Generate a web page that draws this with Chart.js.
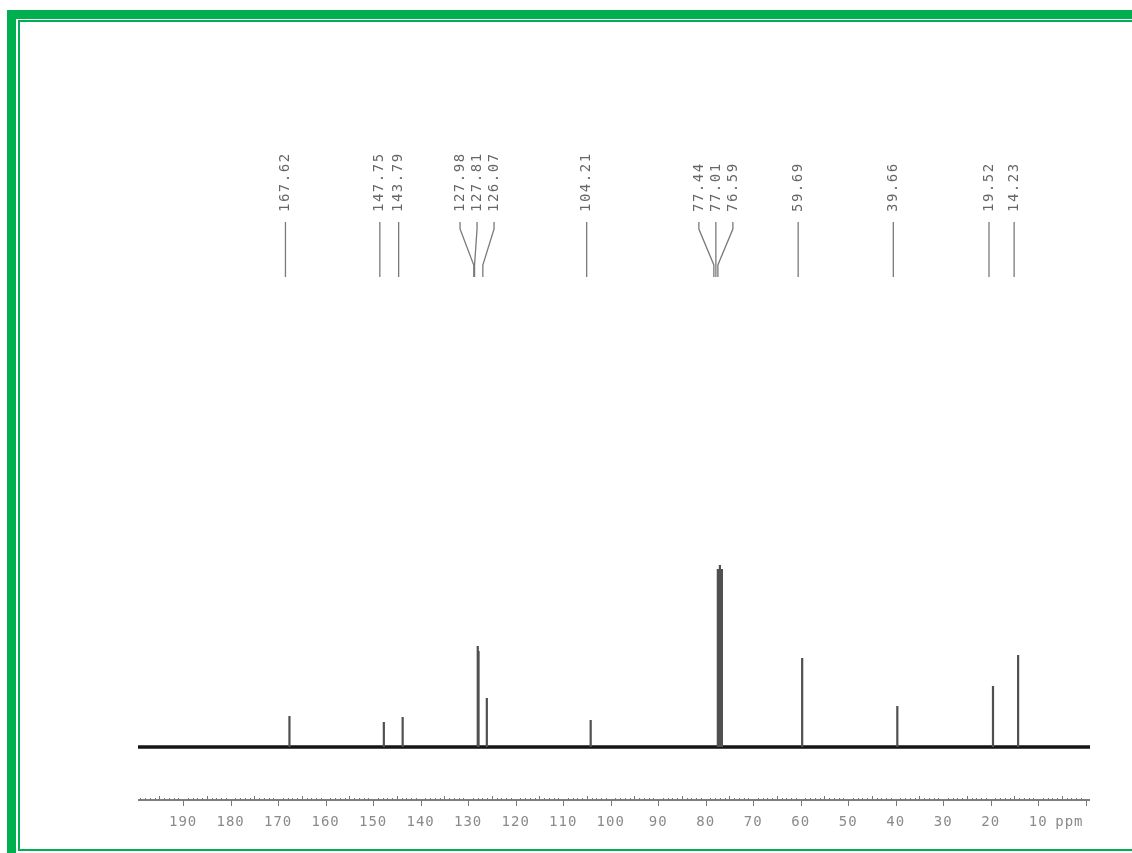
<!DOCTYPE html>
<html>
<head>
<meta charset="utf-8">
<title>13C NMR spectrum</title>
<script src="https://cdn.jsdelivr.net/npm/chart.js@4.4.1/dist/chart.umd.min.js"></script>
<style>
  html, body { margin: 0; padding: 0; background: #fff; overflow: hidden; }
  body { width: 1132px; height: 853px; position: relative; }
  .frame-outer {
    position: absolute; left: 7px; top: 10px; width: 2000px; height: 2000px;
    border-left: 9px solid #00b050; border-top: 9px solid #00b050;
  }
  .frame-inner {
    position: absolute; left: 18px; top: 20px; width: 2000px; height: 831px; box-sizing: border-box;
    border-left: 2px solid #00b050; border-top: 2px solid #00b050; border-bottom: 2px solid #00b050;
  }
  #spectrum { position: absolute; left: 0; top: 0; }
</style>
</head>
<body>
<div class="frame-outer"></div>
<div class="frame-inner"></div>
<canvas id="spectrum" width="1132" height="853"></canvas>
<script>
// Chemical shifts (ppm) of the picked carbon signals, high field last
const shifts = [167.62, 147.75, 143.79, 127.98, 127.81, 126.07, 104.21, 77.44, 77.01, 76.59, 59.69, 39.66, 19.52, 14.23];
// Peak intensities (arbitrary units above the baseline)
const heights = [31, 25, 30, 101, 96, 49, 27, 178, 182, 178, 89, 41, 61, 92];
// Spectral window (ppm), drawn high field on the right
const ppmLeft = 199.5;
const ppmRight = -0.9;
// Labelled ticks of the shift axis
const tickValues = [190, 180, 170, 160, 150, 140, 130, 120, 110, 100, 90, 80, 70, 60, 50, 40, 30, 20, 10];
const axisUnit = 'ppm';

// Baseline across the full window
const baselinePoints = [{ x: ppmLeft, y: 0 }, { x: ppmRight, y: 0 }];

// Each peak is a vertical stick from the baseline to its intensity; a null breaks the line
const stickPoints = [];
shifts.forEach((s, i) => {
  stickPoints.push({ x: s, y: 0 }, { x: s, y: heights[i] }, { x: s, y: null });
});

// Spread peak labels so neighbouring texts keep a minimum gap (px)
function spreadLabels(pxs, gap) {
  let groups = pxs.map((p, i) => ({ idx: [i], px: [p] }));
  const place = g => {
    const c = g.px.reduce((a, b) => a + b, 0) / g.px.length;
    return g.px.map((_, k) => c + (k - (g.px.length - 1) / 2) * gap);
  };
  let changed = true;
  while (changed) {
    changed = false;
    for (let i = 0; i < groups.length - 1; i++) {
      const a = place(groups[i]), b = place(groups[i + 1]);
      if (b[0] - a[a.length - 1] < gap - 0.01) {
        groups[i] = { idx: groups[i].idx.concat(groups[i + 1].idx), px: groups[i].px.concat(groups[i + 1].px) };
        groups.splice(i + 1, 1);
        changed = true;
        break;
      }
    }
  }
  const out = new Array(pxs.length);
  groups.forEach(g => { const pos = place(g); g.idx.forEach((id, k) => { out[id] = pos[k]; }); });
  return out;
}

const peakLabelPlugin = {
  id: 'peakLabels',
  afterDraw(chart) {
    const ctx = chart.ctx;
    const xs = chart.scales.x;
    const shiftPx = -4;
    const peakPx = shifts.map(s => xs.getPixelForValue(s) + shiftPx);
    const labelPx = spreadLabels(peakPx, 17);
    ctx.save();
    ctx.strokeStyle = '#7a7a7a';
    ctx.lineWidth = 1.3;
    ctx.fillStyle = '#666';
    ctx.font = '14px "DejaVu Sans Mono", monospace';
    if ('letterSpacing' in ctx) ctx.letterSpacing = '1.5px';
    shifts.forEach((s, i) => {
      const lx = labelPx[i], px = peakPx[i];
      ctx.beginPath();
      if (Math.abs(lx - px) < 0.5) {
        ctx.moveTo(lx, 222); ctx.lineTo(lx, 277);
      } else {
        ctx.moveTo(lx, 222); ctx.lineTo(lx, 229); ctx.lineTo(px, 265); ctx.lineTo(px, 277);
      }
      ctx.stroke();
      ctx.save();
      ctx.translate(lx, 212);
      ctx.rotate(-Math.PI / 2);
      ctx.textAlign = 'left';
      ctx.textBaseline = 'middle';
      ctx.fillText(s.toFixed(2), 0, 0);
      ctx.restore();
    });
    ctx.restore();
  }
};

const shiftAxisPlugin = {
  id: 'shiftAxis',
  afterDraw(chart) {
    const ctx = chart.ctx;
    const xs = chart.scales.x;
    const area = chart.chartArea;
    const y0 = 800;
    ctx.save();
    ctx.strokeStyle = '#555';
    ctx.lineWidth = 1.4;
    ctx.beginPath();
    ctx.moveTo(area.left, y0); ctx.lineTo(area.right, y0);
    ctx.stroke();
    ctx.lineWidth = 1;
    ctx.strokeStyle = '#777';
    ctx.beginPath();
    for (let v = Math.ceil(ppmRight); v <= Math.floor(ppmLeft); v++) {
      const x = Math.round(xs.getPixelForValue(v)) + 0.5;
      if (v % 10 === 0) { ctx.moveTo(x, y0); ctx.lineTo(x, y0 + 6); }
      else if (v % 5 === 0) { ctx.moveTo(x, y0); ctx.lineTo(x, y0 - 4); }
      else { ctx.moveTo(x, y0); ctx.lineTo(x, y0 - 2); }
    }
    ctx.stroke();
    ctx.fillStyle = '#8a8a8a';
    ctx.font = '14px "DejaVu Sans Mono", monospace';
    if ('letterSpacing' in ctx) ctx.letterSpacing = '1px';
    ctx.textBaseline = 'middle';
    ctx.textAlign = 'center';
    tickValues.forEach(v => ctx.fillText(String(v), xs.getPixelForValue(v), 822));
    ctx.textAlign = 'left';
    ctx.fillText(axisUnit, xs.getPixelForValue(10) + 17, 822);
    ctx.restore();
  }
};

new Chart(document.getElementById('spectrum'), {
  type: 'scatter',
  data: {
    datasets: [
      {
        data: stickPoints,
        showLine: true,
        spanGaps: false,
        borderColor: '#505050',
        borderWidth: 2.2,
        pointRadius: 0
      },
      {
        data: baselinePoints,
        showLine: true,
        borderColor: '#151515',
        borderWidth: 3.5,
        pointRadius: 0
      }
    ]
  },
  options: {
    responsive: false,
    devicePixelRatio: 1,
    animation: false,
    layout: { padding: { left: 138, right: 42, top: 548, bottom: 53 } },
    plugins: { legend: { display: false }, tooltip: { enabled: false } },
    scales: {
      x: { type: 'linear', reverse: true, min: ppmRight, max: ppmLeft, display: false },
      y: { type: 'linear', min: -53, max: 199, display: false }
    }
  },
  plugins: [peakLabelPlugin, shiftAxisPlugin]
});
</script>
</body>
</html>
